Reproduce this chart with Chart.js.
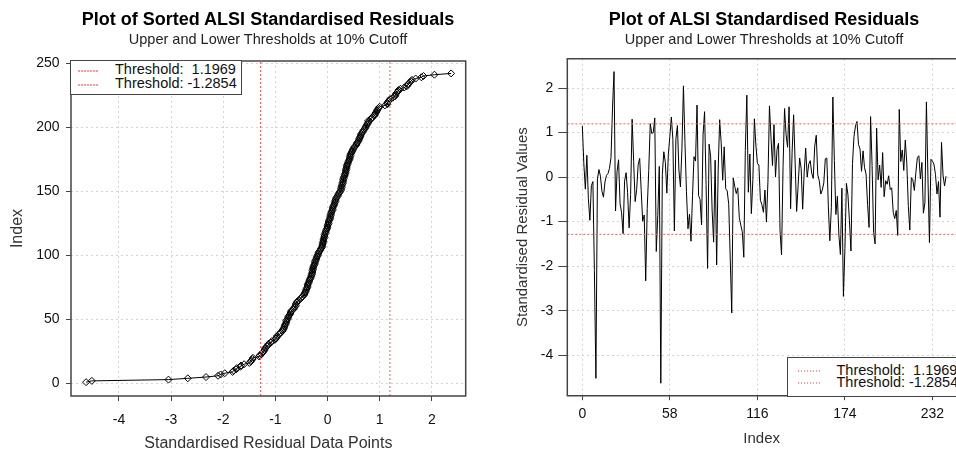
<!DOCTYPE html>
<html>
<head>
<meta charset="utf-8">
<script src="https://cdn.jsdelivr.net/npm/chart.js@4.4.1/dist/chart.umd.min.js"></script>
<style>
  html, body { margin: 0; padding: 0; background: #fff; overflow: hidden; }
  #page { position: relative; width: 956px; height: 452px; overflow: hidden; background: #fff; font-family: "Liberation Sans", Arial, sans-serif; }
  canvas { position: absolute; top: 0; }
  .title { position: absolute; transform: translateX(-50%); white-space: nowrap; font-weight: bold; font-size: 18px; line-height: 18px; color: #000; }
  .sub { position: absolute; transform: translateX(-50%); white-space: nowrap; font-size: 14.5px; line-height: 14.5px; color: #222; }
  .legend { position: absolute; box-sizing: border-box; border: 1.5px solid #444; background: #fff; }
  .lg-line { position: absolute; height: 2px; background-image: repeating-linear-gradient(to right, #ff9a9a 0 1.5px, transparent 1.5px 3px); }
  .lg-text { position: absolute; white-space: pre; font-size: 14.5px; line-height: 14.5px; color: #111; }
</style>
</head>
<body>
<div id="page">
  <canvas id="sortedChart" width="480" height="452" style="left:0"></canvas>
  <canvas id="seriesChart" width="476" height="452" style="left:480px"></canvas>

  <div class="title" style="left:268px;top:9.8px">Plot of Sorted ALSI Standardised Residuals</div>
  <div class="sub" style="left:268px;top:32px">Upper and Lower Thresholds at 10% Cutoff</div>
  <div class="title" style="left:764px;top:9.8px">Plot of ALSI Standardised Residuals</div>
  <div class="sub" style="left:764px;top:32px">Upper and Lower Thresholds at 10% Cutoff</div>

  <div class="legend" style="left:70.3px;top:60.3px;width:172px;height:35px"></div>
  <div class="lg-line" style="left:78px;top:69.5px;width:21px"></div>
  <div class="lg-line" style="left:78px;top:83.5px;width:21px"></div>
  <span class="lg-text" id="lgL1" style="left:115px;top:62.3px"></span>
  <span class="lg-text" id="lgL2" style="left:115px;top:75.8px"></span>

  <div class="legend" style="left:786.5px;top:356.5px;width:200px;height:40px"></div>
  <div class="lg-line" style="left:798px;top:369.5px;width:24px"></div>
  <div class="lg-line" style="left:798px;top:381.5px;width:24px"></div>
  <span class="lg-text" id="lgR1" style="left:836.5px;top:362.8px"></span>
  <span class="lg-text" id="lgR2" style="left:836.5px;top:375.3px"></span>
</div>

<script>
// standardised residuals in time order
const residuals = [
  1.15, 0.3, -0.27, 0.49, -0.48, -0.97, -0.19, -0.1, -2.1, -4.52,
  -0.04, 0.17, 0.02, -0.32, -0.45, -0.11, 0.04, 0.08, 0.2, 0.44,
  1.55, 2.37, -0.76, 0.12, 0.39, -0.59, -0.8, -1.27, -0.09, 0.1,
  -0.35, -1.14, -0.39, 1.3, 0.35, -0.55, -0.28, 0.28, 0.42, -0.3,
  -0.99, -0.85, -2.33, -0.7, 0.15, 1.2, 0.98, 1.0, 1.33, -1.67,
  -0.86, 0.24, -4.63, 0.06, 0.57, 0.33, -0.36, 0.51, 0.92, 1.35,
  0.84, -1.21, 0.86, 1.16, 0.16, -0.22, 0.64, 2.05, 0.78, -0.33,
  -1.16, -0.83, -1.44, -0.42, 0.46, 0.36, 1.62, -0.41, -0.5, -1.07,
  0.95, 1.47, -0.17, -2.05, 0.74, 0.47, -0.74, -1.46, 0.38, -1.97,
  0.14, 1.29, 0.77, -0.07, 0.68, -0.26, -0.31, -0.61, -1.82, -3.05,
  -0.02, -0.21, -0.37, -0.24, -0.91, -1.08, -1.23, -1.8, 0.6, 1.84,
  -0.34, 0.52, -0.82, -0.06, 1.31, 0.72, 0.31, 0.27, -0.52, -0.62,
  -0.79, -0.29, -1.01, -0.09, 1.6, 0.9, 0.26, 1.18, 0.0, 0.62,
  0.76, -1.2, -1.75, 0.23, 1.54, 0.96, 0.67, 1.58, -0.71, 0.56,
  1.4, 0.34, -0.77, -0.18, 0.43, 0.19, -0.72, 0.11, 0.65, 0.0,
  0.29, 0.37, 0.09, -0.03, 0.7, 0.94, 0.05, -0.08, -0.38, -0.29,
  -0.13, 0.41, 0.43, -0.65, -1.43, -0.69, 1.8, 0.37, -0.84, -0.43,
  -1.3, -1.74, -0.25, -2.68, -1.6, -0.14, -0.4, -0.98, -1.66, 0.3,
  0.91, 1.15, 1.25, 0.73, 0.63, 0.13, 0.59, 0.21, 0.07, -0.61,
  -1.13, 1.36, 0.26, -1.24, -1.5, 1.1, -0.06, 0.27, -0.23, 0.55,
  -0.44, -0.08, -0.16, 0.03, -0.28, -0.24, -0.79, -0.93, -0.75, -1.31,
  1.52, 0.35, 0.61, 0.15, 0.83, 0.31, -0.64, -1.19, -0.01, -0.06,
  -0.3, 0.1, 0.44, 0.48, -0.04, 0.33, -0.81, -0.58, 1.69, 0.01,
  -1.47, 0.4, 0.36, 0.29, 0.06, -0.38, -0.1, -0.9, 0.78, 0.05,
  -0.2, 0.02
];
const thresholds = [1.1969, -1.2854];
const thresholdLabels = ['Threshold:  1.1969', 'Threshold: -1.2854'];
const sortedXTicks = [-4, -3, -2, -1, 0, 1, 2];
const sortedYTicks = [0, 50, 100, 150, 200, 250];
const indexTicks = [0, 58, 116, 174, 232];
const residualTicks = [-4, -3, -2, -1, 0, 1, 2];

document.getElementById('lgL1').textContent = thresholdLabels[0];
document.getElementById('lgL2').textContent = thresholdLabels[1];
document.getElementById('lgR1').textContent = thresholdLabels[0];
document.getElementById('lgR2').textContent = thresholdLabels[1];

const sorted = residuals.slice().sort((a, b) => a - b);
const sortedPoints = sorted.map((v, i) => ({x: v, y: i + 1}));
const seriesPoints = residuals.map((v, i) => ({x: i, y: v}));

Chart.defaults.font.family = '"Liberation Sans", Arial, sans-serif';
Chart.defaults.color = '#111';

// R style box round the plot area (right side left open when it runs off the page)
const plotBox = {
  id: 'plotBox',
  afterDatasetsDraw(chart, args, opts) {
    const {ctx, chartArea: a} = chart;
    ctx.save();
    ctx.strokeStyle = '#444';
    ctx.lineWidth = 1.5;
    ctx.beginPath();
    ctx.moveTo(a.right, a.top);
    ctx.lineTo(a.left, a.top);
    ctx.lineTo(a.left, a.bottom);
    ctx.lineTo(a.right, a.bottom);
    if (!opts.openRight) ctx.closePath();
    ctx.stroke();
    ctx.restore();
  }
};

function makeAxis(tickList, o) {
  return {
    type: 'linear',
    min: o.min,
    max: o.max,
    afterBuildTicks: (axis) => { axis.ticks = tickList.map(v => ({value: v})); },
    afterFit: (axis) => { if (o.width) axis.width = o.width; if (o.height) axis.height = o.height; },
    grid: { color: '#d4d4d4', lineWidth: 1, tickColor: '#444', tickLength: o.tickLength, drawTicks: true },
    border: { display: false, dash: [2, 3] },
    ticks: { autoSkip: false, maxRotation: 0, padding: o.pad, font: { size: 14 }, color: '#111', callback: v => String(v) },
    title: { display: true, text: o.title, color: '#333', font: { size: o.titleSize, lineHeight: 1 }, padding: o.titlePad }
  };
}

function thresholdSet(points) {
  return {
    data: points,
    showLine: true,
    borderColor: '#ff5a5a',
    borderWidth: 1,
    borderDash: [2, 2],
    pointRadius: 0
  };
}

const sortedChart = new Chart(document.getElementById('sortedChart'), {
  type: 'scatter',
  data: {
    datasets: [
      thresholdSet([{x: thresholds[0], y: -9.8}, {x: thresholds[0], y: 251.7}]),
      thresholdSet([{x: thresholds[1], y: -9.8}, {x: thresholds[1], y: 251.7}]),
      {
        data: sortedPoints,
        showLine: true,
        borderColor: '#000',
        borderWidth: 1,
        pointStyle: 'rectRot',
        pointRadius: 3.5,
        pointBorderColor: '#000',
        pointBorderWidth: 1,
        pointBackgroundColor: 'rgba(255,255,255,0)'
      }
    ]
  },
  options: {
    responsive: false,
    animation: false,
    layout: { padding: { left: 0, right: 14.3, top: 61, bottom: 0 } },
    plugins: { legend: { display: false }, tooltip: { enabled: false }, plotBox: { openRight: false } },
    scales: {
      x: makeAxis(sortedXTicks, { min: -4.92, max: 2.65, height: 56, tickLength: 5, pad: 10.6,
        title: 'Standardised Residual Data Points', titleSize: 16, titlePad: { top: 0, bottom: 0.5 } }),
      y: makeAxis(sortedYTicks, { min: -9.8, max: 251.7, width: 71, tickLength: 5, pad: 6.5,
        title: 'Index', titleSize: 16, titlePad: { top: 10, bottom: 0 } })
    }
  },
  plugins: [plotBox]
});

const seriesChart = new Chart(document.getElementById('seriesChart'), {
  type: 'scatter',
  data: {
    datasets: [
      thresholdSet([{x: -9.96, y: thresholds[0]}, {x: 247.6, y: thresholds[0]}]),
      thresholdSet([{x: -9.96, y: thresholds[1]}, {x: 247.6, y: thresholds[1]}]),
      {
        data: seriesPoints,
        showLine: true,
        borderColor: '#000',
        borderWidth: 1,
        pointRadius: 0
      }
    ]
  },
  options: {
    responsive: false,
    animation: false,
    layout: { padding: { left: 0, right: 0, top: 58.7, bottom: 0 } },
    plugins: { legend: { display: false }, tooltip: { enabled: false }, plotBox: { openRight: true } },
    scales: {
      x: makeAxis(indexTicks, { min: -9.96, max: 247.6, height: 56.3, tickLength: 4.5, pad: 5.4,
        title: 'Index', titleSize: 15, titlePad: { top: 0, bottom: 5.3 } }),
      y: makeAxis(residualTicks, { min: -4.91, max: 2.66, width: 87.3, tickLength: 9, pad: 5,
        title: 'Standardised Residual Values', titleSize: 15, titlePad: { top: 35.5, bottom: 0 } })
    }
  },
  plugins: [plotBox]
});
</script>
</body>
</html>
